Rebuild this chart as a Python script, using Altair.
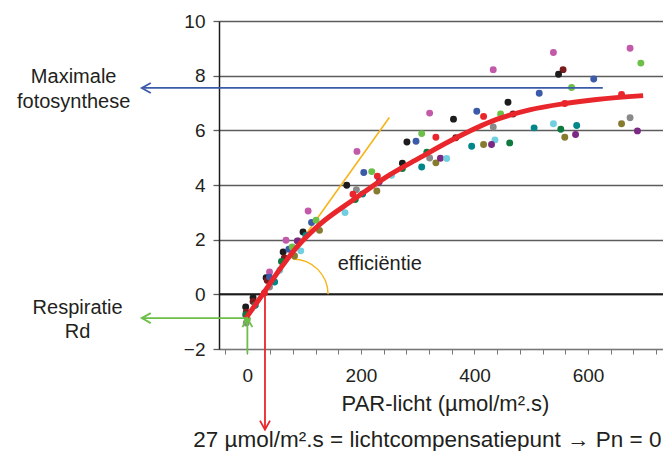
import altair as alt
import pandas as pd

# ---- data ----
par = [539, 674, 693, 556, 548, 610, 433, 571, 514, 559, 659, 459, 404, 416, 446, 468,
       363, 321, 332, 367, 433, 436, 430, 416, 395, 462, 505, 539, 552, 559, 580, 578,
       659, 674, 687, 321, 332, 340, 351, 307, 281, 297, 316, 193, 205, 219, 229, 232,
       254, 273, 307, 175, 192, 203, 228, 190, 172, 107, 113, 121, 98, 127, 103, 68,
       63, 73, 79, 83, 94, 65, 39, 33, 35, 39, 39, 57, 10, 10, 14, -3, -2, -3,
       -2, 0, 30, 60, 90, 48, 88, 186, 273]
pn = [8.85, 9.0, 8.46, 8.22, 8.05, 7.88, 8.22, 7.57, 7.36, 6.98, 7.31, 7.03, 6.70, 6.51, 6.60, 6.60,
      6.41, 6.63, 5.75, 5.73, 6.12, 5.65, 5.48, 5.48, 5.42, 5.54, 6.09, 6.24, 6.04, 5.75, 6.18, 5.85,
      6.24, 6.46, 5.98, 4.99, 4.81, 4.98, 4.97, 5.88, 5.57, 5.60, 5.20, 5.23, 4.46, 4.49, 4.32, 4.11,
      4.36, 4.60, 4.66, 3.99, 3.83, 3.67, 3.78, 3.47, 2.99, 3.05, 2.63, 2.71, 2.28, 2.34, 2.15, 1.98,
      1.55, 1.65, 1.73, 1.40, 1.59, 1.33, 0.82, 0.61, 0.51, 0.63, 0.27, 0.88, -0.12, -0.26, -0.40, -0.46, -0.65, -0.75,
      -1.05, -0.90, 0.05, 1.20, 1.95, 0.45, 1.95, 3.66, 4.80]
grp = ["roze", "roze", "groen", "donkerrood", "zwart", "blauw", "roze", "groen", "blauw", "rood", "rood", "zwart", "blauw", "rood", "groen", "donkerrood",
       "zwart", "roze", "rood", "donkerrood", "grijs", "cyaan", "paars", "olijf", "teal", "donkergroen", "teal", "cyaan", "donkergroen", "olijf", "teal", "paars",
       "olijf", "grijs", "paars", "grijs", "olijf", "paars", "cyaan", "groen", "zwart", "blauw", "donkergroen", "roze", "blauw", "groen", "rood", "paars",
       "cyaan", "donkergroen", "teal", "zwart", "grijs", "teal", "olijf", "donkergroen", "cyaan", "roze", "blauw", "groen", "zwart", "olijf", "teal", "roze",
       "zwart", "blauw", "groen", "olijf", "cyaan", "donkerrood", "roze", "zwart", "donkerrood", "blauw", "grijs", "cyaan", "zwart", "donkerrood", "teal", "zwart", "donkerrood", "donkergroen",
       "grijs", "groen", "rood", "donkergroen", "grijs", "teal", "paars", "rood", "zwart"]

series_names = ["zwart", "roze", "groen", "rood", "blauw", "donkerrood", "teal",
                "donkergroen", "olijf", "grijs", "cyaan", "paars"]
series_colors = ["#1c1c1c", "#c259a9", "#6cbf47", "#e8262b", "#3b5ba9", "#7a1b1d", "#00878a",
                 "#0d7a3f", "#867b2f", "#8a8a8a", "#70cfe0", "#7b2a84"]

curve_x = [-3, 27, 60, 86, 127, 186, 245, 304, 356, 439, 497, 559, 615, 697]
curve_y = [-0.88, 0.0, 1.0, 1.7, 2.55, 3.45, 4.3, 5.0, 5.6, 6.4, 6.75, 6.98, 7.13, 7.27]

pmax = 7.55          # maximale fotosynthese
rd = -0.87           # respiratie
lcp = 31             # lichtcompensatiepunt (position of the red arrow)
tangent_x = [0, 250]
tangent_y = [-0.8, 6.47]

x_ticks = list(range(-40, 721, 40))
x_major = [0, 200, 400, 600]
y_ticks = [-2, 0, 2, 4, 6, 8, 10]

FONT = "Liberation Sans"
TXT = "#231f20"

xs = alt.Scale(domain=[-50, 732], nice=False, zero=False)
ys = alt.Scale(domain=[-2, 10], nice=False, zero=False)
xaxis = alt.Axis(values=x_ticks, labelExpr="datum.value % 200 === 0 ? datum.label : ''",
                 title="PAR-licht (µmol/m².s)", titleFontSize=22, titleFontWeight="normal",
                 titleColor=TXT, titleFont=FONT, titlePadding=8, titleX=226,
                 labelFontSize=19, labelColor=TXT, labelFont=FONT, labelPadding=12,
                 labelOverlap=False, tickSize=5, tickColor="#777777", domainColor="#777777",
                 domainWidth=1.2, grid=False)
yaxis = alt.Axis(values=y_ticks, title=None, grid=True, gridColor="#5c5c5c", gridWidth=1.3,
                 tickSize=6, tickColor="#5c5c5c", tickWidth=1.3, domainColor="#1c1c1c", domainWidth=1.5,
                 labelFontSize=19, labelColor=TXT, labelFont=FONT, labelPadding=8)


def X(f, **kw):
    return alt.X(f, type="quantitative", scale=xs, axis=xaxis, **kw)


def Y(f, **kw):
    return alt.Y(f, type="quantitative", scale=ys, axis=yaxis, **kw)


pts = pd.DataFrame({"par": par, "pn": pn, "grp": grp})
curve = pd.DataFrame({"par": curve_x, "pn": curve_y})

zero = alt.Chart(pd.DataFrame({"y": [0]})).mark_rule(color="#1c1c1c", strokeWidth=2).encode(y=Y("y"))

# slightly longer major ticks on the x axis
major = alt.Chart(pd.DataFrame({"x": x_major})).mark_tick(
    color="#777777", thickness=1.2, size=8, orient="vertical", yOffset=4, clip=False).encode(
    x=X("x"), y=alt.Y("yv:Q", scale=ys, axis=yaxis)).transform_calculate(yv="-2")

rules = pd.DataFrame({
    "x": [-186, -186, 0, lcp],
    "x2": [626, 0, 0, lcp],
    "y": [pmax, rd, rd, 0],
    "y2": [pmax, rd, -2.17, -4.95],
    "col": ["#3b5ba9", "#6cbf47", "#6cbf47", "#e8262b"],
})
rule_layer = alt.Chart(rules).mark_rule(strokeWidth=1.8, clip=False).encode(
    x=X("x"), x2="x2", y=Y("y"), y2="y2", color=alt.Color("col:N", scale=None))

arrows = pd.DataFrame({
    "x": [-186, -186, 0, lcp],
    "y": [pmax, rd, rd, -4.95],
    "dir": ["links", "links", "op", "neer"],
    "col": ["#3b5ba9", "#6cbf47", "#6cbf47", "#e8262b"],
})
arrow_layer = alt.Chart(arrows).mark_point(size=100, filled=False, strokeWidth=1.8, opacity=1, clip=False).encode(
    x=X("x"), y=Y("y"),
    shape=alt.Shape("dir:N", scale=alt.Scale(domain=["links", "op", "neer"],
                                              range=["M 1.8 -1 L 0 0 L 1.8 1",
                                                     "M -1 1.8 L 0 0 L 1 1.8",
                                                     "M -1 -1.8 L 0 0 L 1 -1.8"]), legend=None),
    stroke=alt.Stroke("col:N", scale=None))

tangent = alt.Chart(pd.DataFrame({"par": tangent_x, "pn": tangent_y})).mark_line(
    color="#f6b419", strokeWidth=1.6).encode(x=X("par"), y=Y("pn"))

arc = alt.Chart(pd.DataFrame({"x": [80], "y": [0]})).mark_arc(
    theta=0, theta2=1.5708, radius=36, radius2=34.6, color="#f6b419").encode(x=X("x"), y=Y("y"))

points = alt.Chart(pts).mark_circle(size=48, opacity=1).encode(
    x=X("par"), y=Y("pn"),
    color=alt.Color("grp:N", scale=alt.Scale(domain=series_names, range=series_colors), legend=None))

line = alt.Chart(curve).mark_line(color="#e8262b", strokeWidth=5, interpolate="monotone").encode(
    x=X("par"), y=Y("pn"))

left_txt = pd.DataFrame({
    "x": [-306, -306, -299, -299],
    "y": [7.96, 7.04, -0.49, -1.38],
    "t": ["Maximale", "fotosynthese", "Respiratie", "Rd"],
})
left_layer = alt.Chart(left_txt).mark_text(font=FONT, fontSize=20, color=TXT, align="center",
                                           baseline="middle", clip=False).encode(
    x=X("x"), y=Y("y"), text="t:N")

eff = alt.Chart(pd.DataFrame({"x": [159], "y": [1.12], "t": ["efficiëntie"]})).mark_text(
    font=FONT, fontSize=20, color=TXT, align="left", baseline="middle").encode(
    x=X("x"), y=Y("y"), text="t:N")

bottom = alt.Chart(pd.DataFrame({"x": [317], "y": [-5.32],
                                 "t": ["27 µmol/m².s = lichtcompensatiepunt → Pn = 0"]})).mark_text(
    font=FONT, fontSize=22.5, color=TXT, align="center", baseline="middle", clip=False).encode(
    x=X("x"), y=Y("y"), text="t:N")

chart = alt.layer(zero, tangent, arc, points, line, rule_layer, arrow_layer,
                  left_layer, eff, bottom).properties(
    width=444, height=328,
    autosize=alt.AutoSizeParams(type="none"),
    padding={"left": 211, "top": 13, "right": 0, "bottom": 102},
).configure_view(stroke=None).configure(font=FONT)

chart.save("out.html", embed_options={"renderer": "svg", "actions": False})
